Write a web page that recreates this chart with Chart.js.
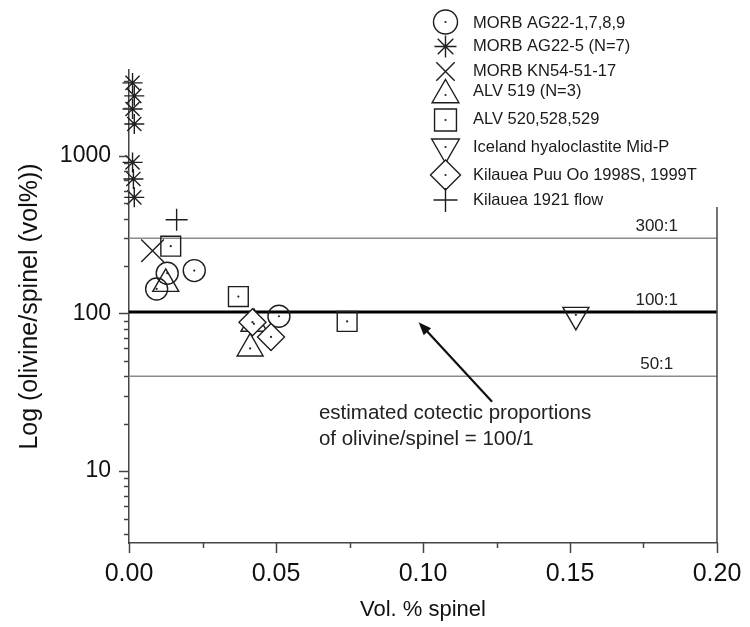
<!DOCTYPE html>
<html><head><meta charset="utf-8">
<script src="https://cdn.jsdelivr.net/npm/chart.js@4.4.1/dist/chart.umd.min.js"></script>
<style>html,body{margin:0;padding:0;background:#fff;}#wrap{width:750px;height:627px;position:relative;}</style>
</head><body><div id="wrap"><canvas id="c" width="750" height="627"></canvas></div>
<script>
// ---------- data ----------
const seriesNames = ['MORB AG22-1,7,8,9','MORB AG22-5 (N=7)','MORB KN54-51-17','ALV 519 (N=3)','ALV 520,528,529','Iceland hyaloclastite Mid-P','Kilauea Puu Oo 1998S, 1999T','Kilauea 1921 flow'];
const morbAG22_1789_x = [0.0094, 0.013, 0.0222, 0.051];
const morbAG22_1789_y = [143, 180, 187, 96];
const morbAG22_5_x = [0.0012, 0.0018, 0.0012, 0.0018, 0.0012, 0.0015, 0.0018];
const morbAG22_5_y = [2900, 2400, 1980, 1590, 908, 713, 545];
const morbKN54_x = [0.008];
const morbKN54_y = [250];
const alv519_x = [0.0125, 0.0425, 0.0412];
const alv519_y = [154, 86, 60];
const alv520_x = [0.0142, 0.0372, 0.0742];
const alv520_y = [267, 128, 89];
const iceland_x = [0.152];
const iceland_y = [98];
const puuOo_x = [0.042, 0.0483];
const puuOo_y = [88, 71];
const kil1921_x = [0.0162];
const kil1921_y = [393];
const xTickValues = [0, 0.05, 0.10, 0.15, 0.20];
const yTickLabels = [10, 100, 1000];
const ratioValues = [300, 102, 40];
const ratioLabels = ['300:1', '100:1', '50:1'];
const noteLines = ['estimated cotectic proportions', 'of olivine/spinel = 100/1'];

// ---------- styling ----------
const FONT = '"Liberation Sans", Arial, Helvetica, sans-serif';
const INK = '#1e1e1e';
function pts(xs, ys){ return xs.map((x,i)=>({x:x, y:ys[i]})); }

const markers = [
  {data: pts(morbAG22_1789_x, morbAG22_1789_y), style:'circle', r:11, dot:true, lr:12},
  {data: pts(morbAG22_5_x, morbAG22_5_y), style:'star', r:10, dot:true, lr:11},
  {data: pts(morbKN54_x, morbKN54_y), style:'crossRot', r:16, dot:false, lr:13},
  {data: pts(alv519_x, alv519_y), style:'triangle', r:15, dot:true, lr:15.5},
  {data: pts(alv520_x, alv520_y), style:'rect', r:14, dot:true, lr:15.5},
  {data: pts(iceland_x, iceland_y), style:'triangle', rot:180, r:15, dot:true, lr:16},
  {data: pts(puuOo_x, puuOo_y), style:'rectRot', r:13.5, dot:true, lr:15, fill:'#ffffff', order:0},
  {data: pts(kil1921_x, kil1921_y), style:'cross', r:11, dot:false, lr:12}
];

const datasets = [];
markers.forEach((m,i)=>{
  datasets.push({
    type:'scatter', label: seriesNames[i], data: m.data,
    pointStyle: m.style, pointRotation: m.rot||0, pointRadius: m.r, pointHoverRadius: m.r,
    borderColor: INK, backgroundColor: m.fill || 'rgba(0,0,0,0)', pointBorderWidth: 1.4,
    borderWidth: 1.4, clip: false, order: (m.order===undefined ? 1 : m.order), showLine: false
  });
});
ratioValues.forEach((v,i)=>{
  datasets.push({
    type:'line', label: ratioLabels[i], data:[{x:0,y:v},{x:0.2,y:v}],
    borderColor: i===1 ? '#000000' : '#8c8c8c', borderWidth: i===1 ? 3 : 1.5,
    pointRadius:0, fill:false, order: 5
  });
});

function allLogTicks(min, max){
  const out = [];
  for (let e = 0; e <= 3; e++) {
    for (let m = 1; m <= 9; m++) {
      const v = m * Math.pow(10, e);
      if (v >= min && v <= max) out.push(v);
    }
  }
  return out;
}

function drawSymbol(ctx, style, rot, x, y, r, fill){
  ctx.save();
  ctx.translate(x, y);
  ctx.rotate((rot||0) * Math.PI/180);
  ctx.beginPath();
  const s = Math.SQRT1_2 * r;
  switch(style){
    case 'circle': ctx.arc(0,0,r,0,Math.PI*2); break;
    case 'triangle':
      for (let k=0;k<3;k++){ const a = -Math.PI/2 + k*2*Math.PI/3; const px=Math.cos(a)*r, py=Math.sin(a)*r; k?ctx.lineTo(px,py):ctx.moveTo(px,py);} ctx.closePath(); break;
    case 'rect': ctx.rect(-s,-s,2*s,2*s); break;
    case 'rectRot': ctx.moveTo(0,-r); ctx.lineTo(r,0); ctx.lineTo(0,r); ctx.lineTo(-r,0); ctx.closePath(); break;
    case 'cross': ctx.moveTo(0,-r); ctx.lineTo(0,r); ctx.moveTo(-r,0); ctx.lineTo(r,0); break;
    case 'crossRot': ctx.moveTo(-s,-s); ctx.lineTo(s,s); ctx.moveTo(-s,s); ctx.lineTo(s,-s); break;
    case 'star': ctx.moveTo(0,-r); ctx.lineTo(0,r); ctx.moveTo(-r,0); ctx.lineTo(r,0); ctx.moveTo(-s,-s); ctx.lineTo(s,s); ctx.moveTo(-s,s); ctx.lineTo(s,-s); break;
  }
  if (fill && style!=='cross' && style!=='crossRot' && style!=='star'){ ctx.fillStyle = fill; ctx.fill(); }
  ctx.stroke();
  ctx.restore();
}

const decorPlugin = {
  id: 'decor',
  afterDatasetsDraw(chart){
    const ctx = chart.ctx;
    ctx.save();
    ctx.fillStyle = '#222';
    markers.forEach((m,i)=>{
      if (!m.dot) return;
      chart.getDatasetMeta(i).data.forEach(el=>{
        ctx.beginPath(); ctx.arc(el.x, el.y, m.style==='star'?1.8:1.1, 0, Math.PI*2); ctx.fill();
      });
    });
    ctx.restore();
  },
  afterDraw(chart){
    const ctx = chart.ctx, xs = chart.scales.x, ys = chart.scales.y, ca = chart.chartArea;
    ctx.save();
    ctx.strokeStyle = '#444'; ctx.lineWidth = 1.5;
    // right frame
    ctx.beginPath(); ctx.moveTo(ca.right, ca.top); ctx.lineTo(ca.right, ca.bottom); ctx.stroke();
    // x ticks
    for (let v = 0; v <= 0.2000001; v += 0.025) {
      const px = Math.round(xs.getPixelForValue(v)) + 0.5;
      const major = Math.abs(v/0.05 - Math.round(v/0.05)) < 1e-6;
      ctx.beginPath(); ctx.moveTo(px, ca.bottom); ctx.lineTo(px, ca.bottom + (major?10:5)); ctx.stroke();
    }
    // y ticks
    allLogTicks(3.5, 3500).forEach(v=>{
      const py = Math.round(ys.getPixelForValue(v)) + 0.5;
      const major = yTickLabels.includes(v);
      ctx.beginPath(); ctx.moveTo(ca.left, py); ctx.lineTo(ca.left - (major?10:5), py); ctx.stroke();
    });
    // ratio labels
    ctx.fillStyle = '#222';
    ctx.font = '17px ' + FONT;
    ctx.textAlign = 'center'; ctx.textBaseline = 'bottom';
    ratioValues.forEach((v,i)=>{
      const py = ys.getPixelForValue(v);
      ctx.fillText(ratioLabels[i], xs.getPixelForValue(0.1795), py - 3);
    });
    // note text
    ctx.font = '20.5px ' + FONT;
    ctx.textAlign = 'left'; ctx.textBaseline = 'middle';
    const nx = xs.getPixelForValue(0.0646), ny = ys.getPixelForValue(23.3);
    noteLines.forEach((t,k)=> ctx.fillText(t, nx, ny + k*26));
    // arrow
    const ax0 = xs.getPixelForValue(0.1235), ay0 = ys.getPixelForValue(27.5);
    const ax1 = xs.getPixelForValue(0.0985), ay1 = ys.getPixelForValue(88);
    const ang = Math.atan2(ay1-ay0, ax1-ax0);
    ctx.strokeStyle = '#111'; ctx.lineWidth = 2.2;
    ctx.beginPath(); ctx.moveTo(ax0, ay0); ctx.lineTo(ax1 - Math.cos(ang)*8, ay1 - Math.sin(ang)*8); ctx.stroke();
    ctx.fillStyle = '#111';
    ctx.beginPath();
    ctx.moveTo(ax1, ay1);
    ctx.lineTo(ax1 - Math.cos(ang)*13 + Math.sin(ang)*5, ay1 - Math.sin(ang)*13 - Math.cos(ang)*5);
    ctx.lineTo(ax1 - Math.cos(ang)*13 - Math.sin(ang)*5, ay1 - Math.sin(ang)*13 + Math.cos(ang)*5);
    ctx.closePath(); ctx.fill();
    // legend
    ctx.fillStyle = '#ffffff';
    ctx.fillRect(396, 0, 354, 207);
    const rowsY = [22, 46.5, 71.5, 95, 120, 147, 175, 200];
    const textY = [23, 46.5, 71, 91, 119, 147, 175, 200];
    ctx.strokeStyle = INK; ctx.lineWidth = 1.4;
    ctx.font = '16.5px ' + FONT; ctx.textAlign = 'left'; ctx.textBaseline = 'middle';
    markers.forEach((m,i)=>{
      drawSymbol(ctx, m.style, m.rot, 445.5, rowsY[i], m.lr, '#ffffff');
      if (m.dot){ ctx.fillStyle = '#222'; ctx.beginPath(); ctx.arc(445.5, rowsY[i], m.style==='star'?1.8:1.1, 0, Math.PI*2); ctx.fill(); }
      ctx.fillStyle = '#1a1a1a';
      ctx.fillText(seriesNames[i], 473, textY[i]);
    });
    ctx.restore();
  }
};

new Chart(document.getElementById('c'), {
  data: { datasets: datasets },
  plugins: [decorPlugin],
  options: {
    responsive: false, animation: false,
    layout: { padding: { top: 70, right: 33, left: 0, bottom: 0 } },
    plugins: { legend: { display: false }, tooltip: { enabled: false } },
    scales: {
      x: {
        type: 'linear', position: 'bottom', min: 0, max: 0.2,
        afterBuildTicks: (s)=>{ s.ticks = xTickValues.map(v=>({value:v})); },
        afterFit: (s)=>{ s.height = 84; },
        ticks: { autoSkip:false, maxRotation:0, padding: 6, color:'#111', font:{family:FONT, size:25},
          callback: (v)=> Number(v).toFixed(2) },
        grid: { display:true, drawOnChartArea:false, drawTicks:true, tickLength:10, color:'rgba(0,0,0,0)' },
        border: { display:true, color:'#444', width:1.5 },
        title: { display:true, text:'Vol. % spinel', color:'#111', font:{family:FONT, size:22}, padding:{top:0, bottom:4} }
      },
      y: {
        type: 'logarithmic', position: 'left', min: 3.5, max: 3500,
        afterBuildTicks: (s)=>{ s.ticks = allLogTicks(3.5, 3500).map(v=>({value:v})); },
        afterFit: (s)=>{ s.width = 129; },
        ticks: { autoSkip:false, padding: 8, color:'#111', font:{family:FONT, size:23},
          callback: (v)=> yTickLabels.includes(v) ? String(v) : '' },
        grid: { display:true, drawOnChartArea:false, drawTicks:true, tickLength:10, color:'rgba(0,0,0,0)' },
        border: { display:true, color:'#444', width:1.5 },
        title: { display:true, text:'Log (olivine/spinel (vol%))', color:'#111', font:{family:FONT, size:25}, padding:{top:15, bottom:0} }
      }
    }
  }
});
</script>
</body></html>
